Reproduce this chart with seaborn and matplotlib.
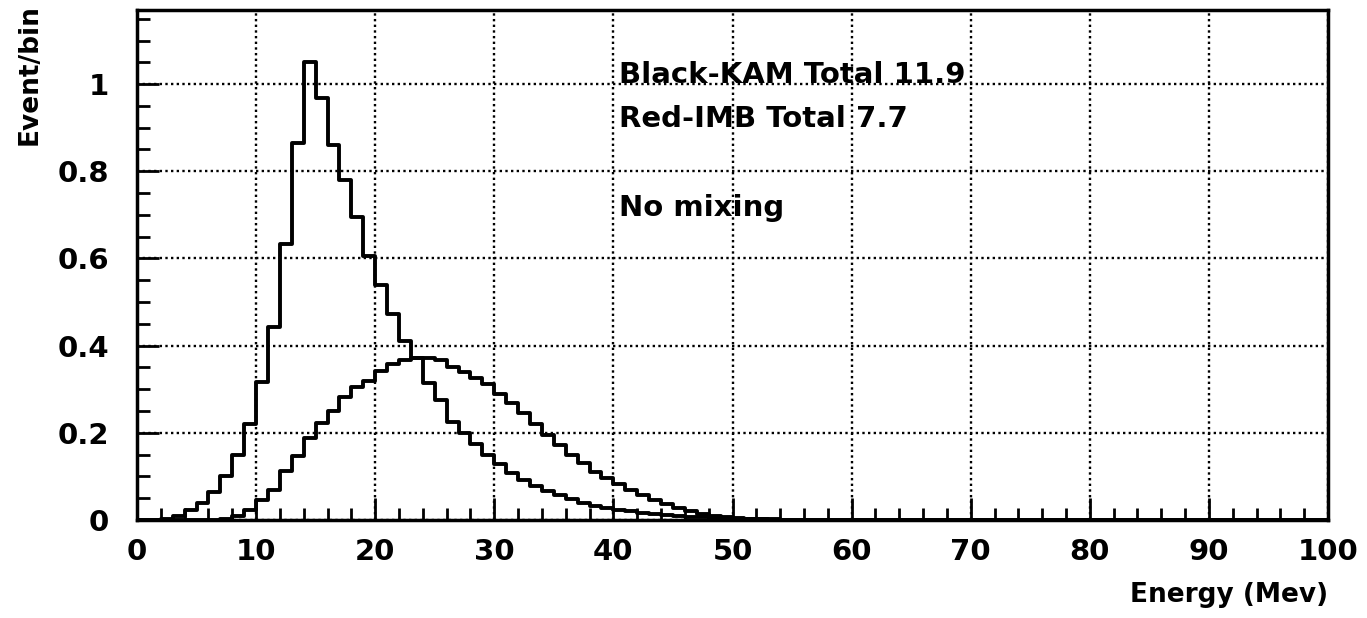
import numpy as np
import pandas as pd
import matplotlib
matplotlib.use("Agg")
import matplotlib.pyplot as plt
from matplotlib.ticker import MultipleLocator
import seaborn as sns

# bins of 1 MeV from 0 to 100, values in events/bin
bin_edges = np.arange(0, 101, 1)
kam_values = [0.0, 0.001, 0.003, 0.008, 0.022, 0.04, 0.065, 0.1, 0.15, 0.22,
              0.317, 0.442, 0.633, 0.864, 1.05, 0.967, 0.86, 0.779, 0.694, 0.605,
              0.54, 0.473, 0.41, 0.372, 0.315, 0.275, 0.225, 0.2, 0.174, 0.148,
              0.128, 0.108, 0.092, 0.078, 0.066, 0.057, 0.048, 0.04, 0.033, 0.028,
              0.024, 0.02, 0.017, 0.014, 0.011, 0.009, 0.0075, 0.006, 0.005, 0.004,
              0.003, 0.0025, 0.002, 0.0015, 0.001, 0.001, 0.0005, 0.0005, 0.0005, 0.0005]
imb_values = [0.0, 0.0, 0.0, 0.0, 0.0, 0.0, 0.0, 0.002, 0.008, 0.022,
              0.045, 0.068, 0.112, 0.146, 0.187, 0.222, 0.25, 0.282, 0.304, 0.318,
              0.341, 0.359, 0.367, 0.371, 0.372, 0.367, 0.352, 0.34, 0.326, 0.313,
              0.288, 0.268, 0.245, 0.221, 0.195, 0.172, 0.15, 0.13, 0.111, 0.096,
              0.082, 0.068, 0.057, 0.046, 0.036, 0.027, 0.02, 0.014, 0.009, 0.006,
              0.004, 0.003, 0.002, 0.001, 0.001]
kam_values = kam_values + [0.0] * (100 - len(kam_values))
imb_values = imb_values + [0.0] * (100 - len(imb_values))

x_ticks = [0, 10, 20, 30, 40, 50, 60, 70, 80, 90, 100]
y_ticks = [0, 0.2, 0.4, 0.6, 0.8, 1.0]
y_tick_labels = ["0", "0.2", "0.4", "0.6", "0.8", "1"]
notes = ["Black-KAM Total 11.9", "Red-IMB Total 7.7", "No mixing"]

df = pd.DataFrame({
    "energy": bin_edges[:-1] + 0.5,
    "kam": kam_values,
    "imb": imb_values,
})

sns.set_theme(style="ticks")
plt.rcParams["font.family"] = ["DejaVu Sans"]
plt.rcParams["font.weight"] = "bold"
plt.rcParams["text.color"] = "black"
plt.rcParams["xtick.labelcolor"] = "black"
plt.rcParams["ytick.labelcolor"] = "black"

fig = plt.figure(figsize=(13.67, 6.18), dpi=100)
ax = fig.add_axes([0.1002, 0.1586, 0.8713, 0.8252])

for col in ["kam", "imb"]:
    sns.histplot(data=df, x="energy", weights=col, bins=list(bin_edges),
                 element="step", fill=False, color="black", linewidth=2.8, ax=ax)

ax.set_xlim(0, 100)
ax.set_ylim(0, 1.17)
ax.set_xticks(x_ticks)
ax.set_yticks(y_ticks)
ax.set_yticklabels(y_tick_labels)
ax.xaxis.set_minor_locator(MultipleLocator(2))
ax.yaxis.set_minor_locator(MultipleLocator(0.05))
ax.tick_params(axis="both", which="major", direction="in", length=16, width=2,
               labelsize=21, color="black")
ax.tick_params(axis="both", which="minor", direction="in", length=9, width=2,
               color="black")
ax.tick_params(axis="x", which="major", pad=13)
ax.tick_params(axis="y", which="major", pad=20)
for side in ["left", "right", "top", "bottom"]:
    ax.spines[side].set_visible(True)
    ax.spines[side].set_linewidth(2.5)
    ax.spines[side].set_color("black")
ax.grid(True, which="major", color="black", linestyle=(0, (1, 1.4)), linewidth=1.7)
ax.set_xlabel("")
ax.set_ylabel("")

for label, yv in zip(notes, [1.02, 0.92, 0.715]):
    ax.text(40.5, yv, label, fontsize=21, fontweight="bold", va="center", ha="left")

fig.text(1328 / 1367, 23 / 618, "Energy (Mev)", fontsize=19, fontweight="bold",
         ha="right", va="center")
fig.text(30 / 1367, 1 - 4 / 618, "Event/bin", fontsize=19, fontweight="bold",
         ha="center", va="top", rotation=90)

fig.savefig("out.png", dpi=100, facecolor="white")
